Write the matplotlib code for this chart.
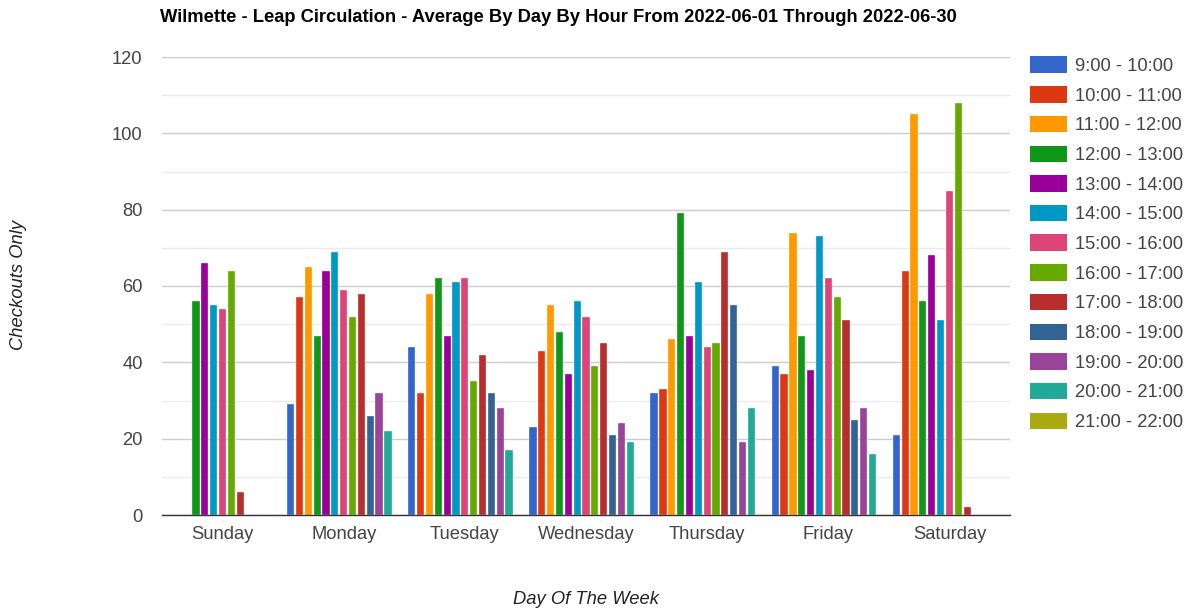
import matplotlib
matplotlib.use("Agg")
import matplotlib.pyplot as plt
import numpy as np
from matplotlib.patches import Patch

plt.rcParams['font.family'] = ['Liberation Sans', 'DejaVu Sans']

days = ["Sunday", "Monday", "Tuesday", "Wednesday", "Thursday", "Friday", "Saturday"]
hours = ["9:00 - 10:00", "10:00 - 11:00", "11:00 - 12:00", "12:00 - 13:00",
         "13:00 - 14:00", "14:00 - 15:00", "15:00 - 16:00", "16:00 - 17:00",
         "17:00 - 18:00", "18:00 - 19:00", "19:00 - 20:00", "20:00 - 21:00",
         "21:00 - 22:00"]
colors = ["#3366cc", "#dc3912", "#ff9900", "#109618", "#990099", "#0099c6",
          "#dd4477", "#66aa00", "#b82e2e", "#316395", "#994499", "#22aa99",
          "#aaaa11"]

sunday    = [0, 0, 0, 56, 66, 55, 54, 64, 6, 0, 0, 0, 0]
monday    = [29, 57, 65, 47, 64, 69, 59, 52, 58, 26, 32, 22, 0]
tuesday   = [44, 32, 58, 62, 47, 61, 62, 35, 42, 32, 28, 17, 0]
wednesday = [23, 43, 55, 48, 37, 56, 52, 39, 45, 21, 24, 19, 0]
thursday  = [32, 33, 46, 79, 47, 61, 44, 45, 69, 55, 19, 28, 0]
friday    = [39, 37, 74, 47, 38, 73, 62, 57, 51, 25, 28, 16, 0]
saturday  = [21, 64, 105, 56, 68, 51, 85, 108, 2, 0, 0, 0, 0]

data = np.array([sunday, monday, tuesday, wednesday, thursday, friday, saturday])

fig = plt.figure(figsize=(11.94, 6.14), dpi=100)
ax = fig.add_axes([162/1194, 1-515/614, 848/1194, 458/614])

n = len(hours)
group_w = 0.95
slot = group_w / n
bar_w = slot * 0.82
x = np.arange(len(days))
for i, h in enumerate(hours):
    ax.bar(x - group_w/2 + slot*(i+0.5), data[:, i], width=bar_w,
           color=colors[i], label=h, zorder=3, edgecolor='white', linewidth=0.25)

ax.set_xlim(-0.5, len(days)-0.5)
ax.set_ylim(0, 120)
ax.set_yticks(np.arange(0, 121, 20))
ax.set_yticks(np.arange(10, 120, 20), minor=True)
ax.grid(axis='y', which='major', color='#cccccc', linewidth=1, zorder=0)
ax.grid(axis='y', which='minor', color='#ebebeb', linewidth=1, zorder=0)
ax.set_xticks(x)
ax.set_xticklabels(days)
ax.tick_params(axis='both', which='both', length=0, labelsize=13.2, colors='#444444')
ax.tick_params(axis='x', pad=8)
ax.tick_params(axis='y', pad=14)
for s in ['top', 'right', 'left']:
    ax.spines[s].set_visible(False)
ax.spines['bottom'].set_color('#333333')
ax.spines['bottom'].set_linewidth(1)
ax.spines['bottom'].set_zorder(4)

fig.text(160/1194, 1-17/614, "Wilmette - Leap Circulation - Average By Day By Hour From 2022-06-01 Through 2022-06-30",
         fontsize=13.2, fontweight='bold', color='#000000', va='center', ha='left')
fig.text(19/1194, 1-285/614, "Checkouts Only", rotation=90, style='italic',
         fontsize=13.2, color='#222222', va='center', ha='center')
fig.text(586/1194, 1-600/614, "Day Of The Week", style='italic',
         fontsize=13.2, color='#222222', va='center', ha='center')

handles = [Patch(facecolor=c, edgecolor='none') for c in colors]
leg = fig.legend(handles, hours, loc='upper left', bbox_to_anchor=(1024/1194, 1-51/614),
                 frameon=False, fontsize=13.2, handlelength=2.05, handleheight=1.0,
                 labelspacing=0.61, handletextpad=0.45, borderaxespad=0, borderpad=0.3)
for t in leg.get_texts():
    t.set_color('#444444')

fig.savefig("out.png", dpi=100)
